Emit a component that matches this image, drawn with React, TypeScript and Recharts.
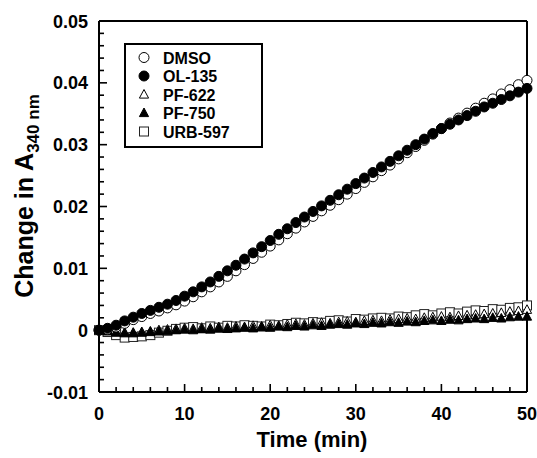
import React from 'react';
import { ScatterChart, Scatter, XAxis, YAxis, ReferenceLine } from 'recharts';

const TIME = [0,1,2,3,4,5,6,7,8,9,10,11,12,13,14,15,16,17,18,19,20,21,22,23,24,25,26,27,28,29,30,31,32,33,34,35,36,37,38,39,40,41,42,43,44,45,46,47,48,49,50];

const DMSO = [0,0.0001,0.0005,0.0011,0.0017,0.0022,0.0027,0.0031,0.0036,0.0041,0.0047,0.0054,0.0062,0.0070,0.0078,0.0087,0.0096,0.0106,0.0116,0.0126,0.0136,0.0146,0.0156,0.0165,0.0175,0.0184,0.0193,0.0202,0.0211,0.0220,0.0229,0.0239,0.0248,0.0258,0.0267,0.0277,0.0287,0.0297,0.0307,0.0317,0.0326,0.0335,0.0343,0.0351,0.0359,0.0367,0.0374,0.0382,0.0389,0.0397,0.0404];

const OL_135 = [0,0.0003,0.0008,0.0015,0.0021,0.0027,0.0032,0.0037,0.0042,0.0048,0.0055,0.0062,0.0070,0.0078,0.0087,0.0096,0.0105,0.0115,0.0125,0.0135,0.0145,0.0155,0.0164,0.0174,0.0183,0.0192,0.0201,0.0210,0.0219,0.0228,0.0237,0.0246,0.0255,0.0264,0.0273,0.0282,0.0291,0.0300,0.0309,0.0318,0.0326,0.0333,0.0340,0.0347,0.0354,0.0361,0.0367,0.0373,0.0379,0.0385,0.0391];

const PF_622 = [0,-0.0001,-0.0003,-0.0004,-0.0004,-0.0003,-0.0002,0,0.0001,0.0002,0.0003,0.0002,0.0004,0.0003,0.0005,0.0004,0.0006,0.0005,0.0007,0.0006,0.0008,0.0007,0.0009,0.0010,0.0009,0.0011,0.0012,0.0011,0.0013,0.0014,0.0013,0.0015,0.0016,0.0015,0.0017,0.0018,0.0019,0.0018,0.0020,0.0021,0.0022,0.0021,0.0023,0.0024,0.0025,0.0026,0.0027,0.0028,0.0030,0.0031,0.0033];

const PF_750 = [0,-0.0002,-0.0004,-0.0005,-0.0005,-0.0004,-0.0003,-0.0002,-0.0001,0,0.0001,0,0.0002,0.0001,0.0003,0.0002,0.0003,0.0004,0.0003,0.0005,0.0004,0.0006,0.0005,0.0007,0.0006,0.0008,0.0007,0.0009,0.0010,0.0009,0.0011,0.0010,0.0012,0.0011,0.0013,0.0012,0.0014,0.0013,0.0015,0.0016,0.0015,0.0017,0.0016,0.0018,0.0019,0.0018,0.0020,0.0019,0.0021,0.0022,0.0022];

const URB_597 = [0,-0.0003,-0.0008,-0.0012,-0.0011,-0.0010,-0.0008,-0.0004,-0.0001,0.0002,0.0004,0.0005,0.0003,0.0006,0.0004,0.0007,0.0006,0.0008,0.0007,0.0006,0.0009,0.0008,0.0010,0.0012,0.0011,0.0013,0.0012,0.0015,0.0016,0.0014,0.0018,0.0017,0.0019,0.0020,0.0019,0.0022,0.0021,0.0024,0.0026,0.0024,0.0027,0.0029,0.0027,0.0030,0.0032,0.0031,0.0034,0.0033,0.0036,0.0037,0.0040];

const X_TICKS = [0,2,4,6,8,10,12,14,16,18,20,22,24,26,28,30,32,34,36,38,40,42,44,46,48,50];
const X_MAJOR = [0,10,20,30,40,50];
const Y_TICKS = [-0.01,-0.008,-0.006,-0.004,-0.002,0,0.002,0.004,0.006,0.008,0.01,0.012,0.014,0.016,0.018,0.02,0.022,0.024,0.026,0.028,0.03,0.032,0.034,0.036,0.038,0.04,0.042,0.044,0.046,0.048,0.05];
const Y_MAJOR = [-0.01,0,0.01,0.02,0.03,0.04,0.05];
const Y_LABELS = ['-0.01','0','0.01','0.02','0.03','0.04','0.05'];

const SERIES_NAMES = ['DMSO','OL-135','PF-622','PF-750','URB-597'];

const FONT = '"Liberation Sans", Arial, Helvetica, sans-serif';
const W = 537;
const H = 458;
const MARGIN = { top: 21, right: 10, left: 0, bottom: 0 };
const Y_AXIS_W = 99;
const X_AXIS_H = 66;
const PLOT_LEFT = MARGIN.left + Y_AXIS_W;
const PLOT_BOTTOM = H - MARGIN.bottom - X_AXIS_H;

const toPoints = (vals: number[]) => TIME.map((t, i) => ({ t, v: vals[i] }));

const OpenCircle = (p: any) => <circle cx={p.cx} cy={p.cy} r={5} fill="#fff" stroke="#000" strokeWidth={1} />;
const FilledCircle = (p: any) => <circle cx={p.cx} cy={p.cy} r={5} fill="#000" stroke="#000" strokeWidth={1} />;
const triPts = (cx: number, cy: number) => `${cx},${cy - 5} ${cx - 4.6},${cy + 3.6} ${cx + 4.6},${cy + 3.6}`;
const OpenTri = (p: any) => <polygon points={triPts(p.cx, p.cy)} fill="#fff" stroke="#000" strokeWidth={1} />;
const FilledTri = (p: any) => <polygon points={triPts(p.cx, p.cy)} fill="#000" stroke="#000" strokeWidth={1} />;
const OpenSquare = (p: any) => <rect x={p.cx - 4.5} y={p.cy - 4.5} width={9} height={9} fill="#fff" stroke="#222" strokeWidth={1} />;

const XTick = (props: any) => {
  const { x, payload } = props;
  const v = payload.value;
  const major = X_MAJOR.indexOf(v) >= 0;
  return (
    <g>
      <line x1={x} x2={x} y1={PLOT_BOTTOM} y2={PLOT_BOTTOM - (major ? 8 : 5)} stroke="#000" strokeWidth={1.6} />
      {major && (
        <text x={x} y={420} textAnchor="middle" fontFamily={FONT} fontWeight="bold" fontSize={18} fill="#000">{String(v)}</text>
      )}
    </g>
  );
};

const YTick = (props: any) => {
  const { y, payload } = props;
  const v = payload.value;
  let idx = -1;
  Y_MAJOR.forEach((m, i) => { if (Math.abs(m - v) < 1e-9) idx = i; });
  const major = idx >= 0;
  return (
    <g>
      <line x1={PLOT_LEFT} x2={PLOT_LEFT + (major ? 8 : 5)} y1={y} y2={y} stroke="#000" strokeWidth={1.6} />
      {major && (
        <text x={88} y={y + 6.5} textAnchor="end" fontFamily={FONT} fontWeight="bold" fontSize={18} fill="#000">{Y_LABELS[idx]}</text>
      )}
    </g>
  );
};

const LegendMark = ({ kind, cx, cy }: { kind: number; cx: number; cy: number }) => {
  const p = { cx, cy };
  if (kind === 0) return <OpenCircle {...p} />;
  if (kind === 1) return <FilledCircle {...p} />;
  if (kind === 2) return <OpenTri {...p} />;
  if (kind === 3) return <FilledTri {...p} />;
  return <OpenSquare {...p} />;
};

export default function App() {
  return (
    <div style={{ position: 'absolute', left: 0, top: 0, width: W, height: H, background: '#fff' }}>
      <ScatterChart width={W} height={H} margin={MARGIN}>
        <XAxis
          type="number"
          dataKey="t"
          domain={[0, 50]}
          ticks={X_TICKS}
          interval={0}
          height={X_AXIS_H}
          tickLine={false}
          axisLine={{ stroke: '#000', strokeWidth: 2 }}
          tick={<XTick />}
          label={{
            content: () => (
              <text x={312} y={447} textAnchor="middle" fontFamily={FONT} fontWeight="bold" fontSize={22} fill="#000">Time (min)</text>
            ),
          }}
        />
        <YAxis
          type="number"
          dataKey="v"
          domain={[-0.01, 0.05]}
          ticks={Y_TICKS}
          interval={0}
          width={Y_AXIS_W}
          tickLine={false}
          axisLine={{ stroke: '#000', strokeWidth: 2 }}
          tick={<YTick />}
          label={{
            content: () => (
              <text transform="translate(33,196) rotate(-90)" textAnchor="middle" fontFamily={FONT} fontWeight="bold" fontSize={25} fill="#000">
                Change in A<tspan fontSize={17} dy={6}>340 nm</tspan>
              </text>
            ),
          }}
        />
        <ReferenceLine y={0.05} stroke="#000" strokeWidth={2} />
        <ReferenceLine x={50} stroke="#000" strokeWidth={2} />
        <Scatter name={SERIES_NAMES[4]} data={toPoints(URB_597)} shape={OpenSquare} isAnimationActive={false} />
        <Scatter name={SERIES_NAMES[2]} data={toPoints(PF_622)} shape={OpenTri} isAnimationActive={false} />
        <Scatter name={SERIES_NAMES[3]} data={toPoints(PF_750)} shape={FilledTri} isAnimationActive={false} />
        <Scatter name={SERIES_NAMES[0]} data={toPoints(DMSO)} shape={OpenCircle} isAnimationActive={false} />
        <Scatter name={SERIES_NAMES[1]} data={toPoints(OL_135)} shape={FilledCircle} isAnimationActive={false} />
      </ScatterChart>
      <svg width={W} height={H} style={{ position: 'absolute', left: 0, top: 0, pointerEvents: 'none' }}>
        <rect x={125} y={44} width={137} height={103} fill="#fff" stroke="#000" strokeWidth={2} />
        {SERIES_NAMES.map((name, i) => (
          <g key={name}>
            <LegendMark kind={i} cx={144} cy={57.5 + i * 18.5} />
            <text x={163} y={57.5 + i * 18.5 + 6} fontFamily={FONT} fontWeight="bold" fontSize={16} fill="#000">{name}</text>
          </g>
        ))}
      </svg>
    </div>
  );
}
